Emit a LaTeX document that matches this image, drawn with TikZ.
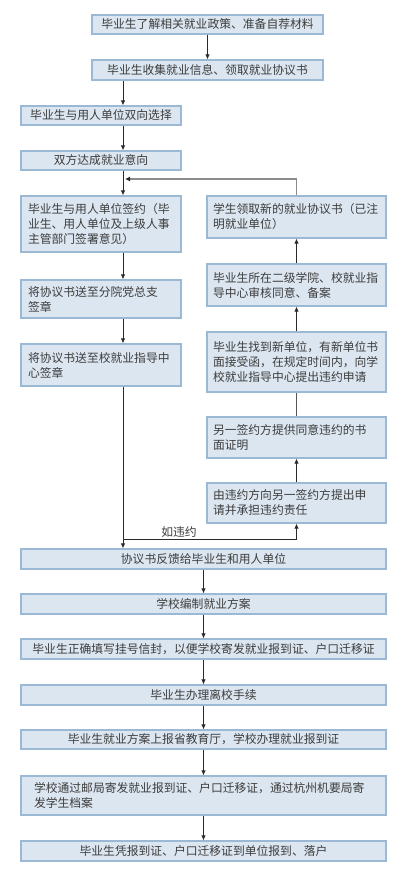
\documentclass[tikz,border=0pt]{standalone}
\usepackage{fontspec}
\setmainfont{Noto Sans CJK SC}
\usetikzlibrary{arrows.meta}
\definecolor{fillcol}{HTML}{DCE6F1}
\definecolor{bordercol}{HTML}{9BB8D4}
\definecolor{txtcol}{HTML}{3C3C3C}
\definecolor{linecol}{HTML}{2A2A2A}
\definecolor{greyline}{HTML}{8C8C8C}
\tikzset{
  box/.style={draw=bordercol, fill=fillcol, line width=1.1pt, inner ysep=0pt,
    text=txtcol, font=\fontsize{11.8}{15}\selectfont, align=center},
  sbox/.style={box, inner xsep=0pt, minimum width=#1},
  lbox/.style={box, inner xsep=7pt, text width=146pt, align=left},
  rbox/.style={box, inner xsep=6pt, text width=167pt, align=left},
  arr/.style={draw=linecol, line width=0.9pt, -{Latex[length=5pt,width=4.5pt]}},
  plain/.style={draw=linecol!80, line width=0.9pt},
  garr/.style={draw=greyline, line width=1.6pt, -{Latex[length=5pt,width=5pt,color=linecol]}},
  lbl/.style={text=txtcol, font=\fontsize{11.8}{15}\selectfont, inner sep=0pt}
}
\begin{document}
\begin{tikzpicture}[x=1pt,y=-1pt]
\useasboundingbox[fill=white] (0,0) rectangle (400,869);
% coordinates for connector columns
\coordinate (lx) at (123,0);
\coordinate (br) at (123,539);
\coordinate (tp) at (125,179);
% top
\node[sbox=231pt, minimum height=19pt] (b1) at (207.5,24.5) {毕业生了解相关就业政策、准备自荐材料};
\node[sbox=231pt, minimum height=20pt] (b2) at (207.5,70) {毕业生收集就业信息、领取就业协议书};
% left column
\node[sbox=160pt, minimum height=19pt] (b3) at (101,115.5) {毕业生与用人单位双向选择};
\node[sbox=160pt, minimum height=19pt] (b4) at (101,160.5) {双方达成就业意向};
\node[lbox, minimum height=56pt] (b5) at (101,224) {毕业生与用人单位签约（毕\\业生、用人单位及上级人事\\主管部门签署意见）};
\node[lbox, minimum height=38pt] (b6) at (101,299) {将协议书送至分院党总支\\签章};
\node[lbox, minimum height=42pt] (b7) at (101,365) {将协议书送至校就业指导中\\心签章};
% right column
\node[rbox, minimum height=42pt] (r1) at (296.5,217) {学生领取新的就业协议书（已注\\明就业单位）};
\node[rbox, minimum height=42pt] (r2) at (296.5,285) {毕业生所在二级学院、校就业指\\导中心审核同意、备案};
\node[rbox, minimum height=60pt] (r3) at (296.5,362) {毕业生找到新单位，有新单位书\\面接受函，在规定时间内，向学\\校就业指导中心提出违约申请};
\node[rbox, minimum height=41pt] (r4) at (296.5,437.5) {另一签约方提供同意违约的书\\面证明};
\node[rbox, minimum height=40pt] (r5) at (296.5,503) {由违约方向另一签约方提出申\\请并承担违约责任};
% bottom
\node[sbox=365pt, minimum height=20pt] (b8) at (203.5,559) {协议书反馈给毕业生和用人单位};
\node[sbox=365pt, minimum height=20pt] (b9) at (203.5,604) {学校编制就业方案};
\node[sbox=365pt, minimum height=20pt] (b10) at (203.5,649) {毕业生正确填写挂号信封，以便学校寄发就业报到证、户口迁移证};
\node[sbox=365pt, minimum height=20pt] (b11) at (203.5,695) {毕业生办理离校手续};
\node[sbox=365pt, minimum height=19pt] (b12) at (203.5,739.5) {毕业生就业方案上报省教育厅，学校办理就业报到证};
\node[box, inner xsep=13pt, text width=339pt, align=left, minimum height=39pt] (b13) at (203.5,795.5) {学校通过邮局寄发就业报到证、户口迁移证，通过杭州机要局寄\\发学生档案};
\node[sbox=365pt, minimum height=20pt] (b14) at (203.5,851) {毕业生凭报到证、户口迁移证到单位报到、落户};
% label
\node[lbl] (lab) at (179,532) {如违约};
% connectors
\draw[arr] (b1) -- (b2);
\draw[arr] (b2.south -| lx) -- (b3.north -| lx);
\draw[arr] (b3.south -| lx) -- (b4.north -| lx);
\draw[arr] (b4.south -| lx) -- (b5.north -| lx);
\draw[arr] (b5.south -| lx) -- (b6.north -| lx);
\draw[arr] (b6.south -| lx) -- (b7.north -| lx);
\draw[arr] (b7.south -| lx) -- (b8.north -| lx);
\draw[arr] (br) -| (r5.south);
\draw[arr] (r5) -- (r4);
\draw[plain] (r4) -- (r3);
\draw[arr] (r3) -- (r2);
\draw[arr] (r2) -- (r1);
\draw[garr] (r1.north) |- (tp);
\draw[arr] (b8) -- (b9);
\draw[arr] (b9) -- (b10);
\draw[arr] (b10) -- (b11);
\draw[arr] (b11) -- (b12);
\draw[arr] (b12) -- (b13);
\draw[arr] (b13) -- (b14);
\end{tikzpicture}
\end{document}
